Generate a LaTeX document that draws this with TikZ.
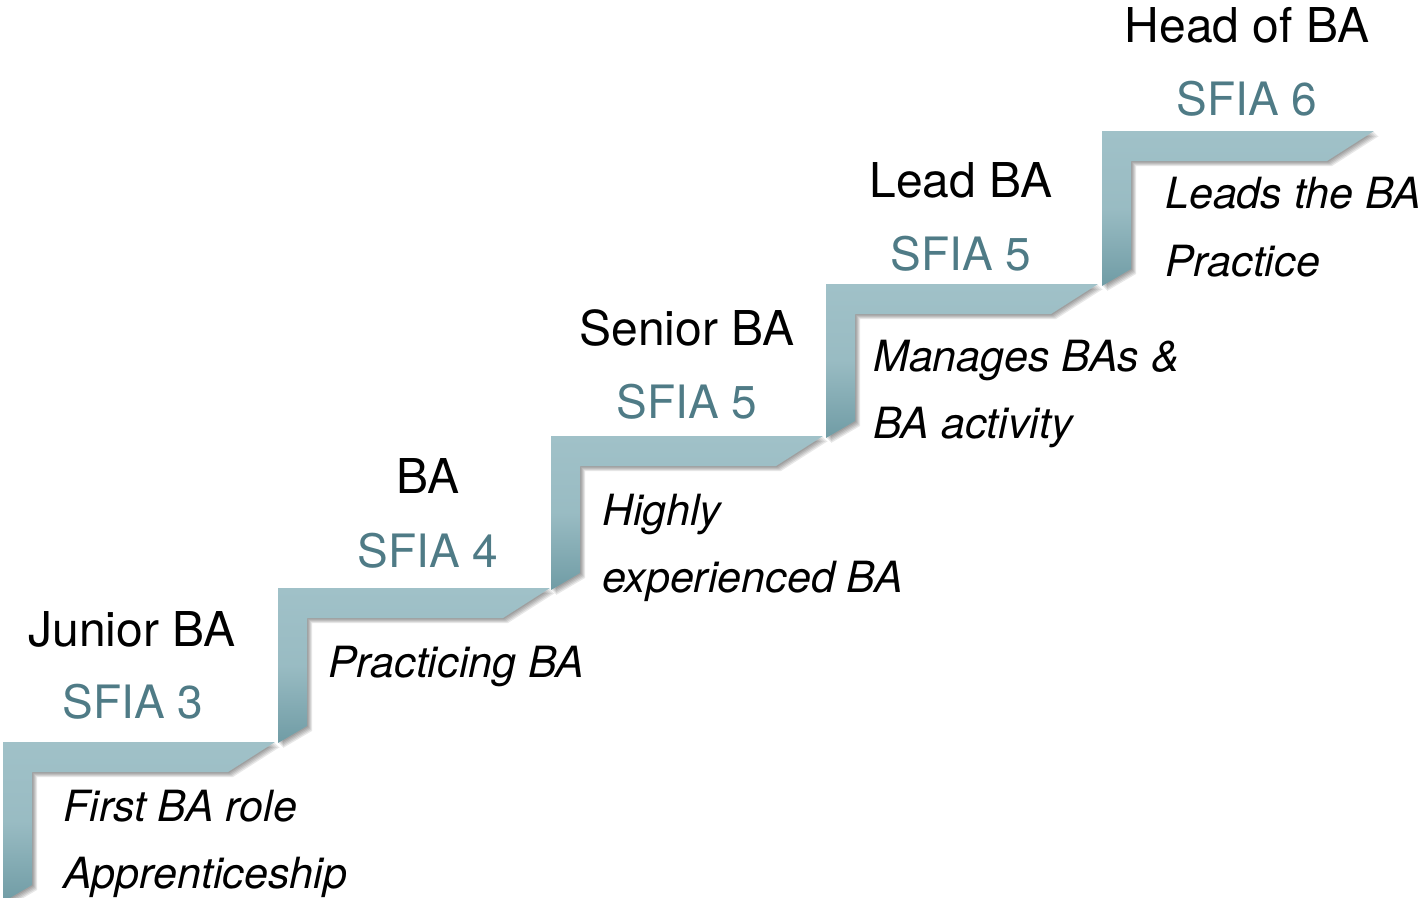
\documentclass[tikz,border=0pt]{standalone}
\usepackage{fontspec}
\setmainfont{TeX Gyre Heros}
\definecolor{steplight}{HTML}{A0C1C8}
\definecolor{stepdark}{HTML}{709CA5}
\definecolor{sfia}{HTML}{4F7B86}
\tikzset{
  titletext/.style={anchor=base,inner sep=0pt,font=\fontsize{48}{56}\selectfont,text=black},
  sfiatext/.style={anchor=base,inner sep=0pt,font=\fontsize{46}{54}\selectfont,text=sfia},
  desctext/.style={anchor=base west,inner sep=0pt,font=\fontsize{43}{50}\selectfont\itshape,text=black},
  stepfill/.style={top color=steplight,bottom color=stepdark,middle color=steplight!85!stepdark,draw=none},
  stepshadow/.style={fill=black,fill opacity=0.09,draw=none}
}
\newcommand{\stairstep}[3]{%
  % #1 = X, #2 = Y (top-left outer corner), #3 = riser length
  \foreach \k in {1,2,3,4,5}{
    \fill[stepshadow] ({#1+\k},{#2+\k}) -- ({#1+272+\k},{#2+\k}) -- ({#1+225+\k},{#2+30+\k}) -- ({#1+29+\k},{#2+30+\k}) -- ({#1+29+\k},{#2+#3-17+\k}) -- ({#1+\k},{#2+#3+\k}) -- cycle;
  }
  \path[stepfill] (#1,#2) -- ({#1+272},#2) -- ({#1+225},{#2+30}) -- ({#1+29},{#2+30}) -- ({#1+29},{#2+#3-17}) -- (#1,{#2+#3}) -- cycle;
}
\begin{document}
\begin{tikzpicture}[x=1pt,y=-1pt]
\useasboundingbox (0,0) rectangle (1427,897);
\begin{scope}
\clip (0,0) rectangle (1427,897);
\stairstep{3}{742}{160}
\stairstep{278}{588}{155}
\stairstep{551}{436}{154}
\stairstep{826}{284}{154}
\stairstep{1102}{131}{155}
\end{scope}

% Junior BA
\node[titletext] (t1) at (132,646) {Junior BA};
\node[sfiatext] (s1) at (133,718) {SFIA 3};
\node[desctext] (d1a) at (63,821) {First BA role};
\node[desctext] (d1b) at (63,888) {Apprenticeship};
% BA
\node[titletext] (t2) at (428,493) {BA};
\node[sfiatext] (s2) at (428,567) {SFIA 4};
\node[desctext] (d2a) at (328,677) {Practicing BA};
% Senior BA
\node[titletext] (t3) at (687,345) {Senior BA};
\node[sfiatext] (s3) at (687,418) {SFIA 5};
\node[desctext] (d3a) at (602,525) {Highly};
\node[desctext] (d3b) at (602,592) {experienced BA};
% Lead BA
\node[titletext] (t4) at (961,197) {Lead BA};
\node[sfiatext] (s4) at (961,270) {SFIA 5};
\node[desctext] (d4a) at (873,371) {Manages BAs \&};
\node[desctext] (d4b) at (873,438) {BA activity};
% Head of BA
\node[titletext] (t5) at (1247,42) {Head of BA};
\node[sfiatext] (s5) at (1247,115) {SFIA 6};
\node[desctext] (d5a) at (1165,208) {Leads the BA};
\node[desctext] (d5b) at (1165,276) {Practice};
\end{tikzpicture}
\end{document}
